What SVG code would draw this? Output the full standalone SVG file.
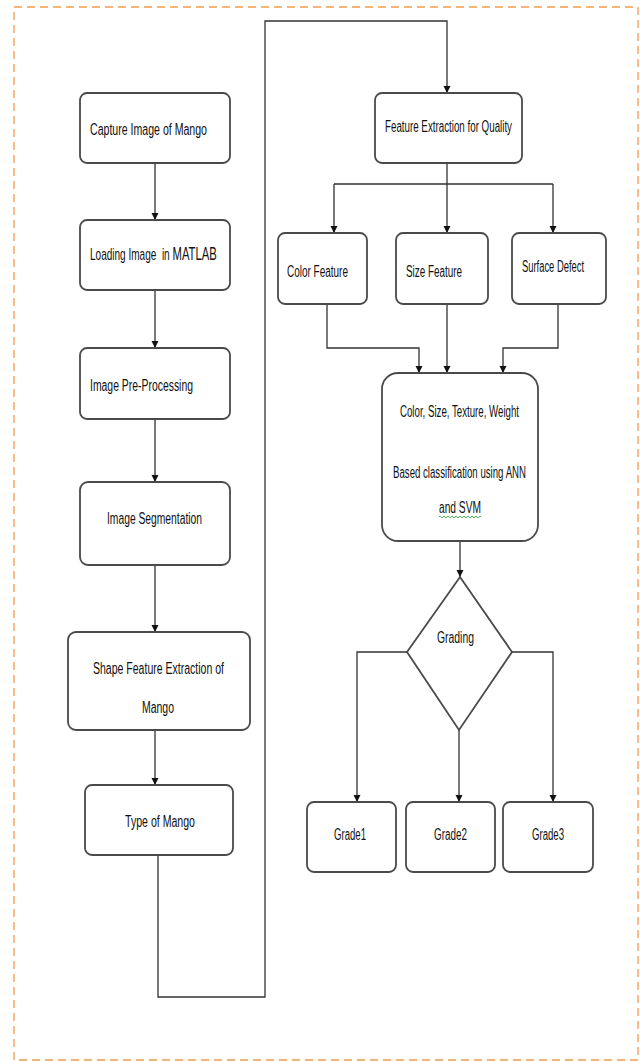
<svg xmlns="http://www.w3.org/2000/svg" width="640" height="1061" viewBox="0 0 640 1061">
<defs>
<marker id="ah" viewBox="0 0 10 10" refX="10" refY="5" markerWidth="7" markerHeight="9" markerUnits="userSpaceOnUse" orient="auto">
<path d="M0,0 L10,5 L0,10 z" fill="#111"/>
</marker>
</defs>
<style>
.box{fill:#fff;stroke:#4a4a4a;stroke-width:1.8}
.t{font-family:"Liberation Sans",Arial,sans-serif;font-size:16px;fill:#111}
.ln{fill:none;stroke:#333;stroke-width:1.3}
.arr{fill:none;stroke:#333;stroke-width:1.3;marker-end:url(#ah)}
</style>
<rect x="14" y="7" width="624" height="1053" fill="#fff" stroke="#f39c4a" stroke-width="1.3" stroke-dasharray="8,5"/>
<g id="connectors">
<path class="arr" d="M155,163 V220"/>
<path class="arr" d="M155,290 V348"/>
<path class="arr" d="M155,419 V482"/>
<path class="arr" d="M155,565 V632"/>
<path class="arr" d="M155,730 V785"/>
<path class="arr" d="M158,855 V997 H265 V21 H447 V93"/>
<path class="ln" d="M447,163 V184"/>
<path class="arr" d="M334,184 H553 M334,184 V233"/>
<path class="arr" d="M447,184 V233"/>
<path class="arr" d="M553,184 V233"/>
<path class="arr" d="M327,304 V348 H419 V373"/>
<path class="arr" d="M447,304 V373"/>
<path class="arr" d="M558,304 V348 H503 V373"/>
<path class="arr" d="M460,541 V577"/>
<path class="arr" d="M407,652 H357 V802"/>
<path class="arr" d="M459,730 V802"/>
<path class="arr" d="M512,652 H553 V802"/>
</g>
<g id="capture"><rect class="box" x="80" y="93" width="150" height="70" rx="7"/><text class="t" x="90" y="135" textLength="117" lengthAdjust="spacingAndGlyphs">Capture Image  of Mango</text></g>
<g id="loading"><rect class="box" x="80" y="220" width="150" height="70" rx="7"/><text class="t" transform="translate(90,260) scale(0.627,1)" x="0" y="0" xml:space="preserve">Loading Image  in <tspan font-size="18">MATLAB</tspan></text></g>
<g id="preprocessing"><rect class="box" x="80" y="348" width="150" height="71" rx="7"/><text class="t" x="90" y="391" textLength="103" lengthAdjust="spacingAndGlyphs">Image Pre-Processing</text></g>
<g id="segmentation"><rect class="box" x="80" y="482" width="150" height="83" rx="8"/><text class="t" x="107" y="524" textLength="95" lengthAdjust="spacingAndGlyphs">Image Segmentation</text></g>
<g id="shape"><rect class="box" x="68" y="632" width="182" height="98" rx="8"/><text class="t" x="93" y="674" textLength="131" lengthAdjust="spacingAndGlyphs">Shape Feature Extraction of</text><text class="t" x="142" y="713" textLength="32" lengthAdjust="spacingAndGlyphs">Mango</text></g>
<g id="type"><rect class="box" x="85" y="785" width="148" height="70" rx="7"/><text class="t" x="125" y="827" textLength="70" lengthAdjust="spacingAndGlyphs">Type of Mango</text></g>
<g id="featureextraction"><rect class="box" x="375" y="93" width="147" height="70" rx="7"/><text class="t" x="385" y="132" textLength="127" lengthAdjust="spacingAndGlyphs">Feature Extraction for Quality</text></g>
<g id="color"><rect class="box" x="278" y="233" width="89" height="71" rx="7"/><text class="t" x="287" y="277" textLength="61" lengthAdjust="spacingAndGlyphs">Color Feature</text></g>
<g id="size"><rect class="box" x="396" y="233" width="92" height="71" rx="7"/><text class="t" x="406" y="277" textLength="56" lengthAdjust="spacingAndGlyphs">Size Feature</text></g>
<g id="surface"><rect class="box" x="512" y="233" width="94" height="71" rx="7"/><text class="t" x="522" y="272" textLength="62" lengthAdjust="spacingAndGlyphs">Surface Defect</text></g>
<g id="classification"><rect class="box" x="382" y="373" width="156" height="168" rx="16"/><text class="t" x="400" y="417" textLength="119" lengthAdjust="spacingAndGlyphs">Color, Size, Texture, Weight</text><text class="t" x="393" y="478" textLength="133" lengthAdjust="spacingAndGlyphs">Based classification using ANN</text><text class="t" x="439" y="513" textLength="42" lengthAdjust="spacingAndGlyphs">and  SVM</text><path d="M439,517 q1,-2 2,0 t2,0 t2,0 t2,0 t2,0 t2,0 t2,0 t2,0 t2,0 t2,0 t2,0 t2,0 t2,0 t2,0 t2,0 t2,0 t2,0 t2,0 t2,0 t2,0 t2,0" fill="none" stroke="#3cb043" stroke-width="0.9"/></g>
<g id="grading"><path class="box" d="M460,577 L512,652 L459,730 L407,652 Z"/><text class="t" x="437" y="643" textLength="37" lengthAdjust="spacingAndGlyphs">Grading</text></g>
<g id="grade1"><rect class="box" x="307" y="802" width="89" height="70" rx="7"/><text class="t" x="334" y="840" textLength="32" lengthAdjust="spacingAndGlyphs">Grade1</text></g>
<g id="grade2"><rect class="box" x="406" y="802" width="89" height="70" rx="7"/><text class="t" x="434" y="840" textLength="33" lengthAdjust="spacingAndGlyphs">Grade2</text></g>
<g id="grade3"><rect class="box" x="503" y="802" width="90" height="70" rx="7"/><text class="t" x="532" y="840" textLength="32" lengthAdjust="spacingAndGlyphs">Grade3</text></g>
</svg>
